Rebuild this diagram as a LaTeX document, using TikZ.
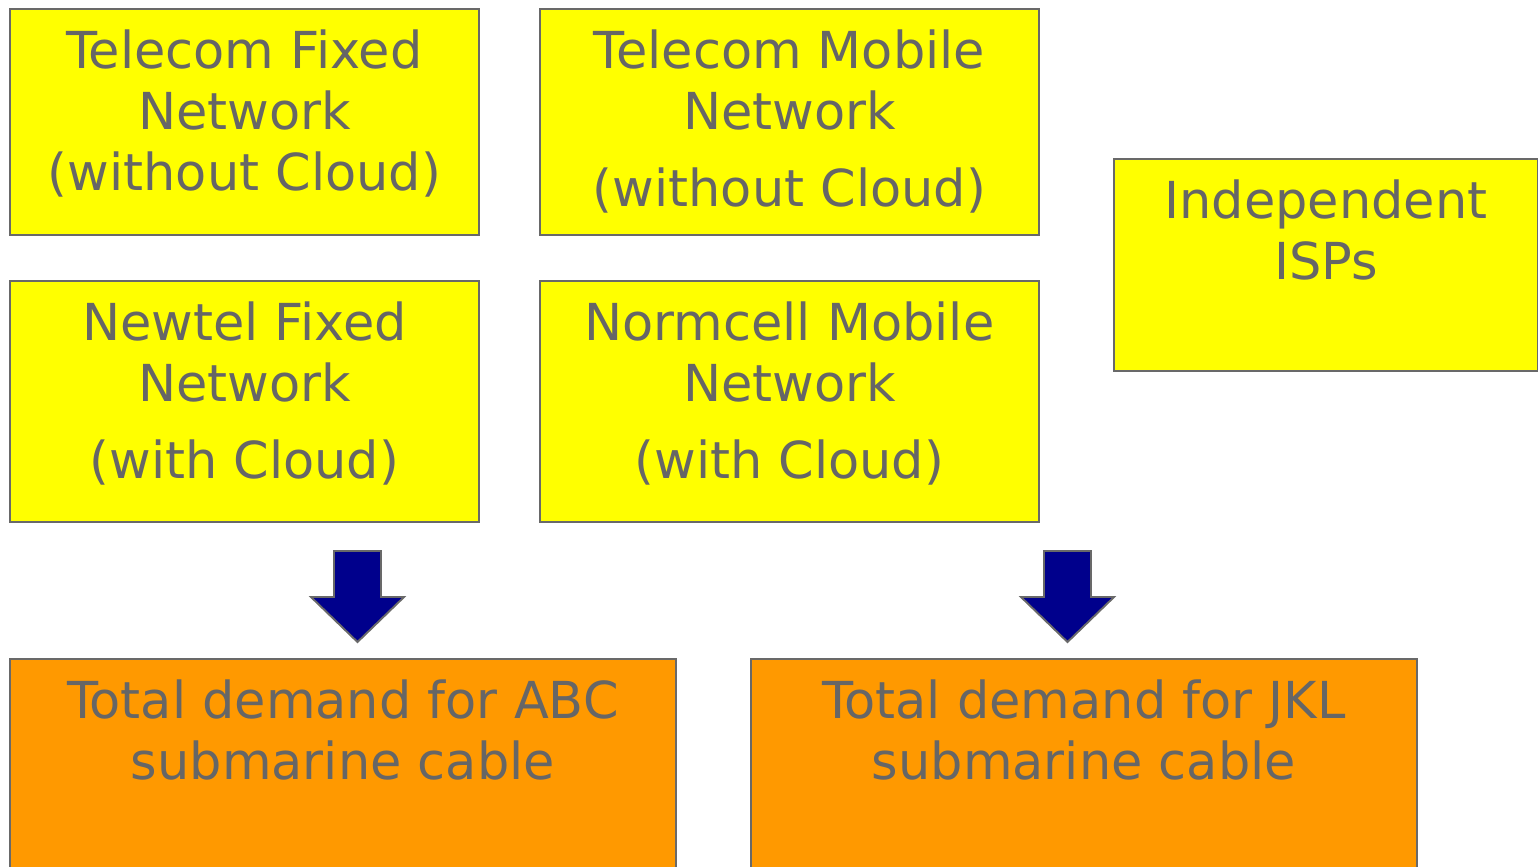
\documentclass[tikz,border=0pt]{standalone}
\usepackage{fontspec}
\setmainfont{DejaVu Sans}
\usepackage{tikz}
\usetikzlibrary{calc,positioning}
\definecolor{txtgray}{RGB}{102,102,102}
\definecolor{linegray}{RGB}{105,105,105}
\definecolor{boxyellow}{RGB}{255,255,0}
\definecolor{boxorange}{RGB}{255,153,0}
\definecolor{arrownavy}{RGB}{0,0,140}

\begin{document}
\begin{tikzpicture}[x=0.02cm,y=-0.02cm,
		ybox/.style={draw=linegray,line width=1.1pt,fill=boxyellow,anchor=north west,inner sep=0pt},
		obox/.style={draw=linegray,line width=1.1pt,fill=boxorange,anchor=north west,inner sep=0pt},
		boxtext/.style={anchor=base,align=center,text=txtgray,inner sep=0pt,font=\fontsize{29}{34.5}\selectfont},
		blockarrow/.style={draw=linegray,line width=1.1pt,fill=arrownavy,line join=miter}]
	\useasboundingbox (0,0) rectangle (1538,866);
	
	% top two rows
	\node[ybox,minimum width=9.38cm,minimum height=4.52cm] (tfix) at (9,8) {};
	\node[ybox,minimum width=9.98cm,minimum height=4.52cm] (tmob) at (539,8) {};
	\node[ybox,minimum width=9.38cm,minimum height=4.82cm] (nfix) at (9,280) {};
	\node[ybox,minimum width=9.98cm,minimum height=4.82cm] (nmob) at (539,280) {};
	\node[ybox,minimum width=8.48cm,minimum height=4.24cm] (isp) at (1113,158) {};
	
	% base = last line of each text
	\node[boxtext] (tfixtext) at ($(tfix.north)+(0,182)$) {Telecom Fixed\\Network\\(without Cloud)};
	\node[boxtext] (tmobtext) at ($(tmob.north)+(0,198)$) {Telecom Mobile\\Network\\[9pt](without Cloud)};
	\node[boxtext] (nfixtext) at ($(nfix.north)+(0,198)$) {Newtel Fixed\\Network\\[9pt](with Cloud)};
	\node[boxtext] (nmobtext) at ($(nmob.north)+(0,198)$) {Normcell Mobile\\Network\\[9pt](with Cloud)};
	\node[boxtext] (isptext) at ($(isp.north)+(0,121)$) {Independent\\ISPs};
	
	% demand boxes
	\node[obox,minimum width=13.32cm,minimum height=5.2cm] (abc) at (9,658) {};
	\node[obox,minimum width=13.32cm,minimum height=5.2cm] (jkl) at (750,658) {};
	\node[boxtext] (abctext) at ($(abc.north)+(0,121)$) {Total demand for ABC\\submarine cable};
	\node[boxtext] (jkltext) at ($(jkl.north)+(0,121)$) {Total demand for JKL\\submarine cable};
	
	% block arrows
	\foreach \x in {357.5,1067.5}
	\draw[blockarrow] (\x,551) -- ++(23.5,0) -- ++(0,46) -- ++(23,0) -- ++(-46.5,45)
		-- ++(-46.5,-45) -- ++(23,0) -- ++(0,-46) -- cycle;
\end{tikzpicture}
\end{document}
